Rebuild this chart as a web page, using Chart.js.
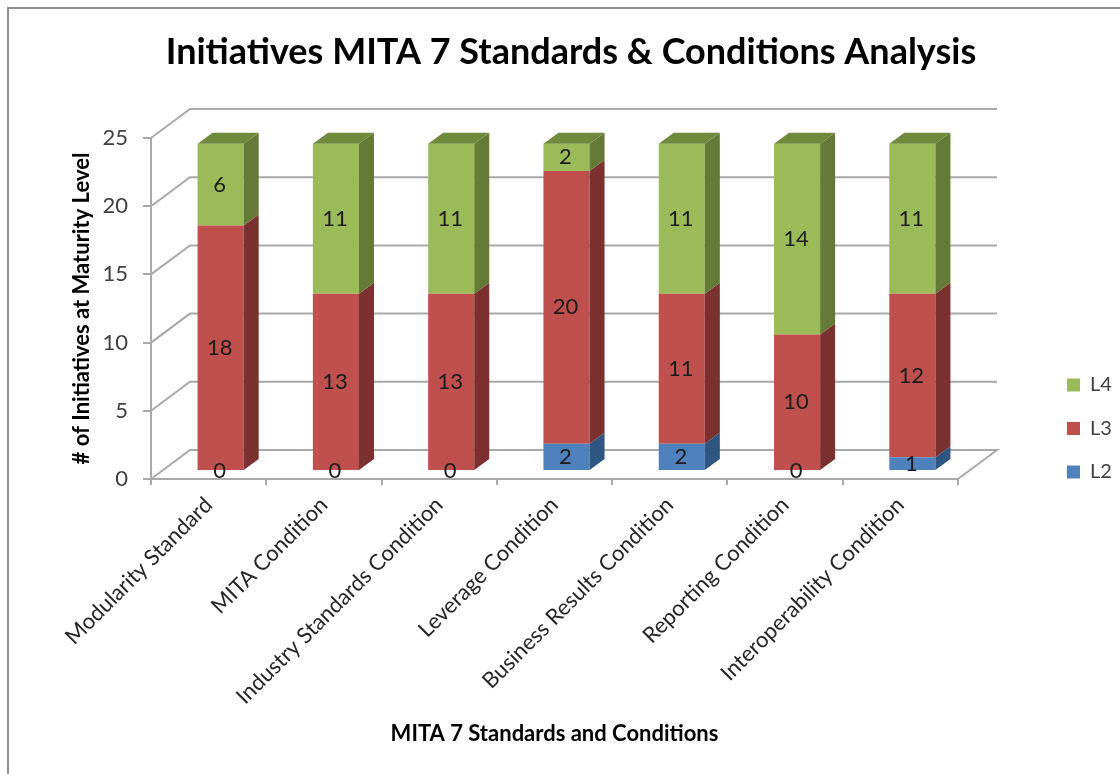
<!DOCTYPE html>
<html><head><meta charset="utf-8">
<script src="https://cdn.jsdelivr.net/npm/chart.js@4"></script>
<style>html,body{margin:0;padding:0;background:#fff}canvas{display:block;filter:blur(0.6px)}</style>
</head><body><canvas id="c" width="1120" height="774"></canvas>
<script>
const categories = ["Modularity Standard","MITA Condition","Industry Standards Condition","Leverage Condition","Business Results Condition","Reporting Condition","Interoperability Condition"];
const L2 = [0,0,0,2,2,0,1];
const L3 = [18,13,13,20,11,10,12];
const L4 = [6,11,11,2,11,14,11];
const FONT = "Lato, Carlito, sans-serif";
const LINE = "#a9a9a9";
const BAR_SHIFT_X = 12, BAR_SHIFT_Y = -8, SIDE_X = 15, SIDE_Y = -11, WALL_X = 39, WALL_Y = -29;
const sides = [
  {side:"#2f5583", top:"#3a669c"},
  {side:"#7b3130", top:"#94403d"},
  {side:"#647a36", top:"#6f8a3c"}
];
const depth = {
  id:"depth",
  beforeDraw(chart){
    const {ctx,chartArea:a,scales:{y}} = chart;
    ctx.save();
    ctx.strokeStyle="#8e8e8e"; ctx.lineWidth=2;
    ctx.beginPath(); ctx.moveTo(8,774); ctx.lineTo(8,8); ctx.lineTo(1120,8); ctx.stroke();
    ctx.strokeStyle=LINE; ctx.lineWidth=2;
    y.ticks.forEach(t=>{
      const py=y.getPixelForValue(t.value);
      ctx.beginPath(); ctx.moveTo(a.left,py); ctx.lineTo(a.left+WALL_X,py+WALL_Y); ctx.lineTo(a.right+WALL_X,py+WALL_Y);
      if(t.value===0) ctx.lineTo(a.right,py);
      ctx.stroke();
    });
    ctx.restore();
  },
  beforeDatasetsDraw(chart){ chart.ctx.save(); chart.ctx.translate(BAR_SHIFT_X,BAR_SHIFT_Y); },
  afterDatasetsDraw(chart){
    const ctx=chart.ctx;
    chart.data.datasets.forEach((ds,di)=>{
      chart.getDatasetMeta(di).data.forEach((b,i)=>{
        if(!ds.data[i]) return;
        const r=b.x+b.width/2, t=Math.min(b.y,b.base), bt=Math.max(b.y,b.base);
        ctx.fillStyle=sides[di].side;
        ctx.beginPath(); ctx.moveTo(r,t); ctx.lineTo(r+SIDE_X,t+SIDE_Y); ctx.lineTo(r+SIDE_X,bt+SIDE_Y); ctx.lineTo(r,bt); ctx.closePath(); ctx.fill();
        if(di===chart.data.datasets.length-1){
          const l=b.x-b.width/2;
          ctx.fillStyle=sides[di].top;
          ctx.beginPath(); ctx.moveTo(l,t); ctx.lineTo(l+SIDE_X,t+SIDE_Y); ctx.lineTo(r+SIDE_X,t+SIDE_Y); ctx.lineTo(r,t); ctx.closePath(); ctx.fill();
        }
      });
    });
    ctx.font="22px "+FONT; ctx.fillStyle="#1c1c1c"; ctx.textAlign="center"; ctx.textBaseline="middle";
    chart.data.datasets.forEach((ds,di)=>{
      chart.getDatasetMeta(di).data.forEach((b,i)=>{
        ctx.fillText(String(ds.data[i]),b.x-1,(b.y+b.base)/2);
      });
    });
    ctx.restore();
  },
  afterLayout(chart){
    const l=chart.legend;
    const w=l.width,h=l.height;
    l.left=1043.5; l.right=1043.5+w; l.top=351.5; l.bottom=351.5+h;
    chart.titleBlock.left=22; chart.titleBlock.right=1120;
  }
};
new Chart(document.getElementById("c"),{
  type:"bar",
  data:{labels:categories,datasets:[
    {label:"L2",data:L2,backgroundColor:"#4f81bd",stack:"s"},
    {label:"L3",data:L3,backgroundColor:"#c0504d",stack:"s"},
    {label:"L4",data:L4,backgroundColor:"#9bbb59",stack:"s"}
  ]},
  options:{
    responsive:false,animation:false,
    layout:{padding:{left:69,right:162,top:0,bottom:26}},
    datasets:{bar:{categoryPercentage:1,barPercentage:0.4}},
    plugins:{
      title:{display:true,text:"Initiatives MITA 7 Standards & Conditions Analysis",color:"#000",font:{family:FONT,size:36,weight:"bold"},padding:{top:31,bottom:63.8}},
      legend:{position:"chartArea",align:"start",reverse:true,labels:{boxWidth:13,boxHeight:13,padding:23.5,color:"#404040",font:{family:FONT,size:20}}},
      tooltip:{enabled:false}
    },
    scales:{
      x:{stacked:true,
        grid:{drawOnChartArea:false,drawTicks:true,tickLength:6,color:LINE,lineWidth:2},
        border:{color:LINE,width:2},
        ticks:{minRotation:45,maxRotation:45,autoSkip:false,padding:7,color:"#262626",font:{family:FONT,size:22}},
        title:{display:true,text:"MITA 7 Standards and Conditions",color:"#000",font:{family:FONT,size:22,weight:"bold"},padding:{top:4,bottom:1}},
        afterFit(s){s.height=269;}
      },
      y:{stacked:true,min:0,max:25,
        grid:{drawOnChartArea:false,drawTicks:true,tickLength:8,color:LINE,lineWidth:2},
        border:{color:LINE,width:2},
        ticks:{stepSize:5,padding:15,color:"#404040",font:{family:FONT,size:22}},
        title:{display:true,text:"# of Initiatives at Maturity Level",color:"#000",font:{family:FONT,size:22,weight:"bold"},padding:{top:0,bottom:0}},
        afterFit(s){s.width=82;}
      }
    }
  },
  plugins:[depth]
});
</script></body></html>
